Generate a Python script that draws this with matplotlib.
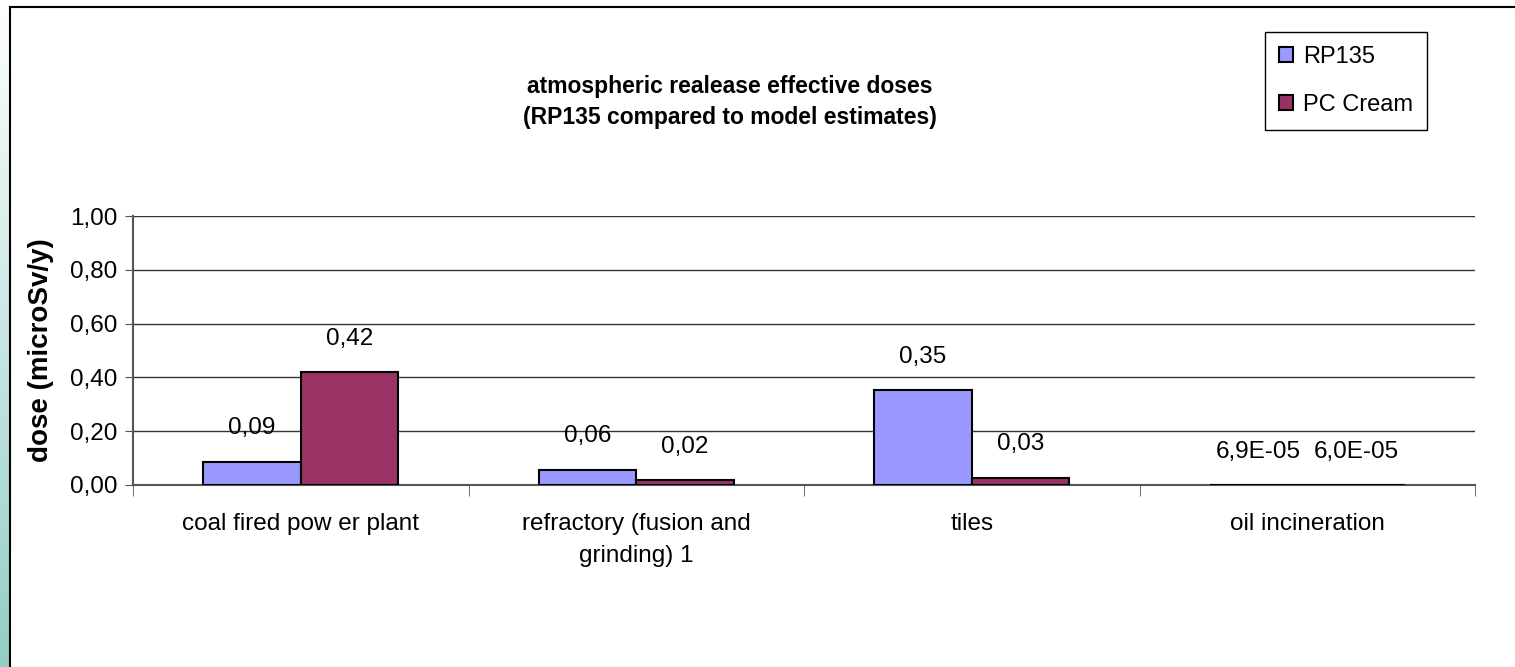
import numpy as np
import matplotlib.pyplot as plt
from matplotlib.patches import Rectangle, Patch
from matplotlib.colors import LinearSegmentedColormap

categories = ['coal fired pow er plant', 'refractory (fusion and\ngrinding) 1', 'tiles', 'oil incineration']
rp135 = [0.087, 0.057, 0.352, 6.9e-05]
pc_cream = [0.42, 0.018, 0.027, 6.0e-05]
rp135_labels = ['0,09', '0,06', '0,35', '6,9E-05']
pc_cream_labels = ['0,42', '0,02', '0,03', '6,0E-05']
yticks = [0.0, 0.2, 0.4, 0.6, 0.8, 1.0]

plt.rcParams['font.family'] = ['Liberation Sans', 'DejaVu Sans']

fig = plt.figure(figsize=(15.15, 6.67), dpi=100)

# teal strip at the left edge
strip = fig.add_axes([0, 0, 10 / 1515, 1])
grad = np.linspace(0, 1, 256).reshape(-1, 1)
cmap = LinearSegmentedColormap.from_list('strip', ['#ffffff', '#93cdc6'])
strip.imshow(grad, aspect='auto', cmap=cmap, extent=[0, 1, 0, 1], origin='upper')
strip.axis('off')

# outer frame
fig.patches.append(Rectangle((10 / 1515, -0.01), 1.0, 1 - 7 / 667 + 0.01,
                             transform=fig.transFigure, fill=False,
                             edgecolor='black', linewidth=1.5))

ax = fig.add_axes([133 / 1515, 1 - 485 / 667, (1475 - 133) / 1515, (485 - 216) / 667])

x = np.arange(len(categories))
w = 0.29
ax.bar(x - w / 2, rp135, w, color='#9999ff', edgecolor='black', linewidth=1.5, label='RP135', zorder=3)
ax.bar(x + w / 2, pc_cream, w, color='#993366', edgecolor='black', linewidth=1.5, label='PC Cream', zorder=3)

for xi, v, s in zip(x, rp135, rp135_labels):
    ax.annotate(s, (xi - w / 2, v), xytext=(0, 24), textcoords='offset points',
                ha='center', va='center', fontsize=17.5)
for xi, v, s in zip(x, pc_cream, pc_cream_labels):
    ax.annotate(s, (xi + w / 2, v), xytext=(0, 24), textcoords='offset points',
                ha='center', va='center', fontsize=17.5)

ax.set_xlim(-0.5, len(categories) - 0.5)
ax.set_ylim(0, 1)
ax.set_yticks(yticks)
ax.set_yticklabels([f'{t:.2f}'.replace('.', ',') for t in yticks], fontsize=17.5)
ax.yaxis.grid(True, color='#333333', linewidth=1)
ax.set_axisbelow(True)

ax.set_xticks(x)
ax.set_xticklabels(categories, fontsize=17.5, linespacing=1.6)
ax.tick_params(axis='x', length=0, pad=20)
ax.set_xticks(np.arange(len(categories) + 1) - 0.5, minor=True)
ax.tick_params(axis='x', which='minor', length=8, color='#555555')
ax.tick_params(axis='y', length=6, color='#555555', pad=5)

for side in ['top', 'right']:
    ax.spines[side].set_visible(False)
ax.spines['left'].set_color('#555555')
ax.spines['bottom'].set_color('#555555')
ax.spines['left'].set_linewidth(1.5)
ax.spines['bottom'].set_linewidth(1.5)

ax.set_ylabel('dose (microSv/y)', fontsize=20, fontweight='bold', labelpad=12)

fig.text(730 / 1515, 1 - 102 / 667, 'atmospheric realease effective doses\n(RP135 compared to model estimates)',
         ha='center', va='center', fontsize=16.5, fontweight='bold', linespacing=1.4)

handles = [Patch(facecolor='#9999ff', edgecolor='black', linewidth=1.5),
           Patch(facecolor='#993366', edgecolor='black', linewidth=1.5)]
fig.legend(handles, ['RP135', 'PC Cream'], loc='upper right',
           bbox_to_anchor=(1427 / 1515, 1 - 32 / 667), fontsize=17,
           frameon=True, fancybox=False, edgecolor='black', framealpha=1,
           handlelength=0.6, handleheight=0.6, handletextpad=0.42,
           labelspacing=1.1, borderpad=0.6, borderaxespad=0)

fig.savefig('out.png', dpi=100)
